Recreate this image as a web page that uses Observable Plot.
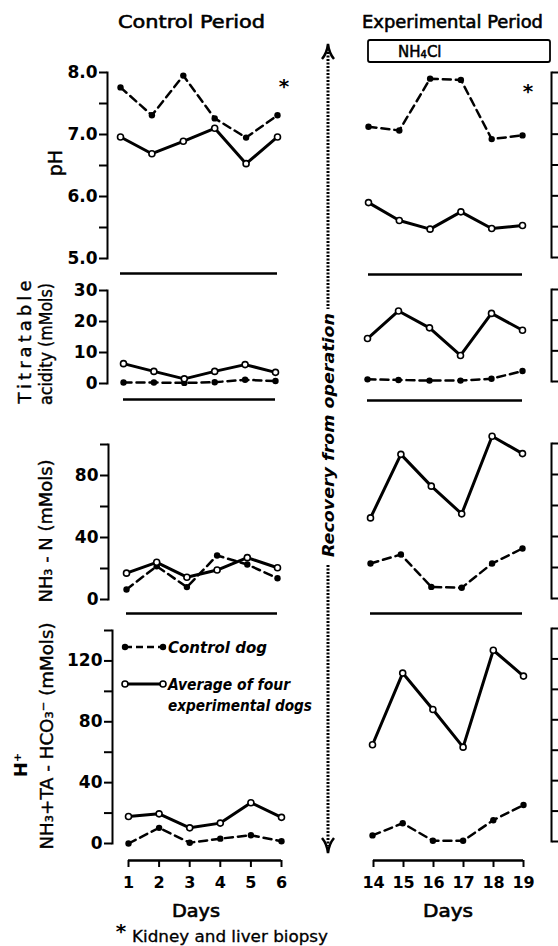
<!DOCTYPE html>
<html><head><meta charset="utf-8">
<script src="https://cdn.jsdelivr.net/npm/d3@7"></script>
<script src="https://cdn.jsdelivr.net/npm/@observablehq/plot@0.6"></script>
<style>
body{margin:0;background:#fff}
#fig{position:relative;width:558px;height:946px;overflow:hidden;background:#fff}
#fig svg{display:block}
</style></head><body><div id="fig"></div>
<script>
const W = 558, H = 946;

// ---- data ----
const controlDays = [1, 2, 3, 4, 5, 6];
const experimentalDays = [14, 15, 16, 17, 18, 19];

const pHDogControl = [7.76, 7.31, 7.95, 7.26, 6.95, 7.31];
const pHAvgControl = [6.96, 6.69, 6.89, 7.10, 6.53, 6.96];
const pHDogExp = [7.12, 7.06, 7.90, 7.88, 6.92, 6.98];
const pHAvgExp = [5.89, 5.60, 5.46, 5.74, 5.47, 5.52];

const taDogControl = [0.3, 0.3, 0.2, 0.4, 1.2, 0.8];
const taAvgControl = [6.4, 3.9, 1.5, 3.9, 6.1, 3.6];
const taDogExp = [0.7, 0.5, 0.3, 0.3, 0.9, 3.4];
const taAvgExp = [14.0, 23.0, 17.5, 8.5, 22.2, 16.7];

const nh3DogControl = [6.5, 21.5, 8, 28.4, 22.6, 13.7];
const nh3AvgControl = [17, 24, 14.4, 19, 27, 20.5];
const nh3DogExp = [22.6, 28.4, 7.5, 6.9, 22.6, 32.3];
const nh3AvgExp = [52, 93, 72.5, 54.6, 104.7, 93.5];

const hDogControl = [0, 10.3, 0.5, 3.2, 5.4, 1.5];
const hAvgControl = [17.7, 19.5, 10.3, 13.4, 26.8, 17.2];
const hDogExp = [4, 12, 0.5, 0.5, 14, 24];
const hAvgExp = [63.6, 110.7, 86.8, 62, 125.7, 108.7];

const pHTicks = [5, 5.5, 6, 6.5, 7, 7.5, 8];
const pHTickLabels = ["5.0", "", "6.0", "", "7.0", "", "8.0"];
const taTicks = [0, 10, 20, 30];
const taTickLabels = ["0", "10", "20", "30"];
const nh3Ticks = [0, 20, 40, 60, 80, 100];
const nh3TickLabels = ["0", "", "40", "", "80", ""];
const hTicks = [0, 20, 40, 60, 80, 100, 120, 140];
const hTickLabels = ["0", "", "40", "", "80", "", "120", ""];

// ---- one master SVG that collects every Plot's marks ----
const master = d3.select("#fig").append("svg")
  .attr("width", W).attr("height", H).attr("viewBox", `0 0 ${W} ${H}`)
  .style("font-family", "DejaVu Sans").attr("fill", "black");

function absorb(plotSvg) {
  const g = document.createElementNS("http://www.w3.org/2000/svg", "g");
  for (const a of Array.from(plotSvg.attributes)) {
    if (["width", "height", "viewBox", "class", "xmlns", "style"].includes(a.name)) continue;
    g.setAttribute(a.name, a.value);
  }
  g.setAttribute("font-family", "DejaVu Sans");
  g.setAttribute("font-weight", "bold");
  g.setAttribute("color", "black");
  g.style.color = "black";
  Array.from(plotSvg.childNodes).forEach(n => {
    if (n.nodeName.toLowerCase() !== "style") g.appendChild(n);
  });
  master.node().appendChild(g);
}

const plotStyle = {fontFamily: "DejaVu Sans", fontSize: "16px", fontWeight: "bold", color: "black"};

function panel(c) {
  const rows = c.days.map((day, i) => ({day, dog: c.dog[i], avg: c.avg[i]}));
  const left = c.side === "left";
  const last = c.days[c.days.length - 1];
  return Plot.plot({
    width: W, height: H,
    marginTop: c.top, marginBottom: H - c.bottom,
    marginLeft: left ? c.axis : 0,
    marginRight: left ? 0 : W - c.axis,
    x: {domain: [c.days[0], last], range: c.xRange, axis: null},
    y: {domain: [c.ticks[0], c.ticks[c.ticks.length - 1]]},
    style: plotStyle,
    marks: [
      Plot.frame({anchor: c.side, strokeWidth: 2}),
      Plot.axisY({anchor: c.side, ticks: c.ticks, tickSize: 8, tickPadding: 2, strokeWidth: 2,
        tickFormat: d => left ? c.labels[c.ticks.indexOf(d)] : "", label: null,
        fontSize: 17, fontWeight: "bold"}),
      c.sep ? Plot.ruleY([c.ticks[0]], {x1: c.days[0], x2: last, dy: c.sep, strokeWidth: 2.5}) : null,
      Plot.line(rows, {x: "day", y: "dog", strokeWidth: 2.5, strokeDasharray: "8,5"}),
      Plot.line(rows, {x: "day", y: "avg", strokeWidth: 3}),
      Plot.dot(rows, {x: "day", y: "dog", r: 3.2, fill: "black"}),
      Plot.dot(rows, {x: "day", y: "avg", r: 3, fill: "white", stroke: "black", strokeWidth: 1.6})
    ]
  });
}

function xAxis(days, xRange, lineY) {
  const last = days[days.length - 1];
  return Plot.plot({
    width: W, height: H, marginTop: 0, marginBottom: H - lineY, marginLeft: 0, marginRight: 0,
    x: {domain: [days[0], last], range: xRange},
    y: {domain: [0, 1], axis: null},
    style: plotStyle,
    marks: [
      Plot.ruleY([0], {x1: days[0], x2: last, strokeWidth: 2.5, stroke: "black"}),
      Plot.axisX({ticks: days, tickSize: 7, tickPadding: 9, strokeWidth: 2, stroke: "black", label: null,
        fontSize: 16, fontWeight: "bold", tickFormat: d => String(d)})
    ]
  });
}

const panels = [
  {side: "left", days: controlDays, dog: pHDogControl, avg: pHAvgControl, ticks: pHTicks, labels: pHTickLabels, top: 72, bottom: 258, axis: 107, xRange: [120, 277], sep: 15},
  {side: "left", days: controlDays, dog: taDogControl, avg: taAvgControl, ticks: taTicks, labels: taTickLabels, top: 290, bottom: 383, axis: 107, xRange: [123, 275], sep: 16},
  {side: "left", days: controlDays, dog: nh3DogControl, avg: nh3AvgControl, ticks: nh3Ticks, labels: nh3TickLabels, top: 444, bottom: 599, axis: 108, xRange: [126, 277], sep: 14},
  {side: "left", days: controlDays, dog: hDogControl, avg: hAvgControl, ticks: hTicks, labels: hTickLabels, top: 630, bottom: 843, axis: 112, xRange: [128, 281], sep: 0},
  {side: "right", days: experimentalDays, dog: pHDogExp, avg: pHAvgExp, ticks: pHTicks, labels: pHTickLabels, top: 72, bottom: 257, axis: 551, xRange: [368, 522], sep: 17},
  {side: "right", days: experimentalDays, dog: taDogExp, avg: taAvgExp, ticks: taTicks, labels: taTickLabels, top: 289, bottom: 381, axis: 551, xRange: [367, 522], sep: 19},
  {side: "right", days: experimentalDays, dog: nh3DogExp, avg: nh3AvgExp, ticks: nh3Ticks, labels: nh3TickLabels, top: 443, bottom: 598, axis: 551, xRange: [370, 522], sep: 15},
  {side: "right", days: experimentalDays, dog: hDogExp, avg: hAvgExp, ticks: hTicks, labels: hTickLabels, top: 628, bottom: 841, axis: 551, xRange: [372, 523], sep: 0}
];
panels.forEach(c => absorb(panel(c)));
absorb(xAxis(controlDays, [128, 281], 860));
absorb(xAxis(experimentalDays, [373, 523], 860));

// ---- annotations ----
const svg = master.append("g").attr("fill", "black");

function text(x, y, s, o = {}) {
  const t = svg.append("text").attr("x", x).attr("y", y).text(s)
    .attr("font-family", "DejaVu Sans")
    .attr("font-size", o.size || 17)
    .attr("font-weight", o.weight || "normal")
    .attr("font-style", o.style || "normal")
    .attr("text-anchor", o.anchor || "start");
  if (o.stroke) t.attr("stroke", "black").attr("stroke-width", o.stroke);
  if (o.len) t.attr("textLength", o.len).attr("lengthAdjust", o.adjust || "spacingAndGlyphs");
  if (o.rotate) t.attr("transform", `rotate(-90 ${x} ${y})`);
  return t;
}

// column titles
text(118, 28, "Control Period", {size: 18, len: 147, stroke: 0.6});
text(362, 28, "Experimental Period", {size: 18, len: 181, stroke: 0.6});

// NH4Cl bar
svg.append("rect").attr("x", 368).attr("y", 40).attr("width", 182).attr("height", 22)
  .attr("rx", 2).attr("fill", "none").attr("stroke", "black").attr("stroke-width", 1.8);
const nh = text(398, 57, "NH", {size: 15, stroke: 0.5});
nh.append("tspan").attr("font-size", 10).attr("dy", 1).text("4");
nh.append("tspan").attr("dy", -1).text("Cl");

// biopsy asterisks and footnote
text(284, 93, "*", {size: 20, weight: "bold", anchor: "middle"});
text(528, 98, "*", {size: 20, weight: "bold", anchor: "middle"});
text(121, 938, "*", {size: 20, weight: "bold", anchor: "middle"});
text(132, 942, "Kidney and liver biopsy", {size: 15, len: 196, stroke: 0.3});

// x titles
text(172, 917, "Days", {size: 17, len: 48, stroke: 0.6});
text(423, 917, "Days", {size: 17, len: 50, stroke: 0.6});

// y titles (rotated)
text(62, 163, "pH", {size: 19, anchor: "middle", rotate: true, stroke: 0.4});
text(31, 342, "Titratable", {size: 18, anchor: "middle", rotate: true, len: 123, adjust: "spacing", stroke: 0.4});
text(52, 344, "acidity (mMols)", {size: 18, anchor: "middle", rotate: true, len: 122, stroke: 0.4});
text(52, 531, "NH₃ - N (mMols)", {size: 18, anchor: "middle", rotate: true, len: 143, stroke: 0.4});
text(27, 765, "H⁺", {size: 18, weight: "bold", anchor: "middle", rotate: true});
text(53, 736, "NH₃+TA - HCO₃⁻ (mMols)", {size: 18, anchor: "middle", rotate: true, len: 227, stroke: 0.4});

// legend
const lg = svg.append("g");
lg.append("line").attr("x1", 125).attr("x2", 163).attr("y1", 647).attr("y2", 647)
  .attr("stroke", "black").attr("stroke-width", 2.5).attr("stroke-dasharray", "7,4");
[125, 163].forEach(x => lg.append("circle").attr("cx", x).attr("cy", 647).attr("r", 3.2).attr("fill", "black"));
lg.append("line").attr("x1", 125).attr("x2", 163).attr("y1", 684).attr("y2", 684)
  .attr("stroke", "black").attr("stroke-width", 3);
[125, 163].forEach(x => lg.append("circle").attr("cx", x).attr("cy", 684).attr("r", 3)
  .attr("fill", "white").attr("stroke", "black").attr("stroke-width", 1.6));
text(168, 653, "Control dog", {size: 16, weight: "bold", style: "italic", len: 99});
text(168, 690, "Average of four", {size: 16, weight: "bold", style: "italic", len: 122});
text(168, 711, "experimental dogs", {size: 16, weight: "bold", style: "italic", len: 144});

// recovery arrow
const ar = svg.append("g").attr("fill", "none").attr("stroke", "black");
ar.append("line").attr("x1", 328).attr("x2", 328).attr("y1", 52).attr("y2", 309)
  .attr("stroke-width", 3).attr("stroke-dasharray", "2,1.5");
ar.append("line").attr("x1", 328).attr("x2", 328).attr("y1", 565).attr("y2", 846)
  .attr("stroke-width", 3).attr("stroke-dasharray", "2,1.5");
ar.append("path").attr("d", "M322,59 Q327,53 328,44 Q329,53 334,59").attr("stroke-width", 2.5);
ar.append("path").attr("d", "M322,838 Q327,844 328,853 Q329,844 334,838").attr("stroke-width", 2.5);
text(334, 435, "Recovery from operation", {size: 16, weight: "bold", style: "italic", anchor: "middle", rotate: true, len: 244});
</script></body></html>
